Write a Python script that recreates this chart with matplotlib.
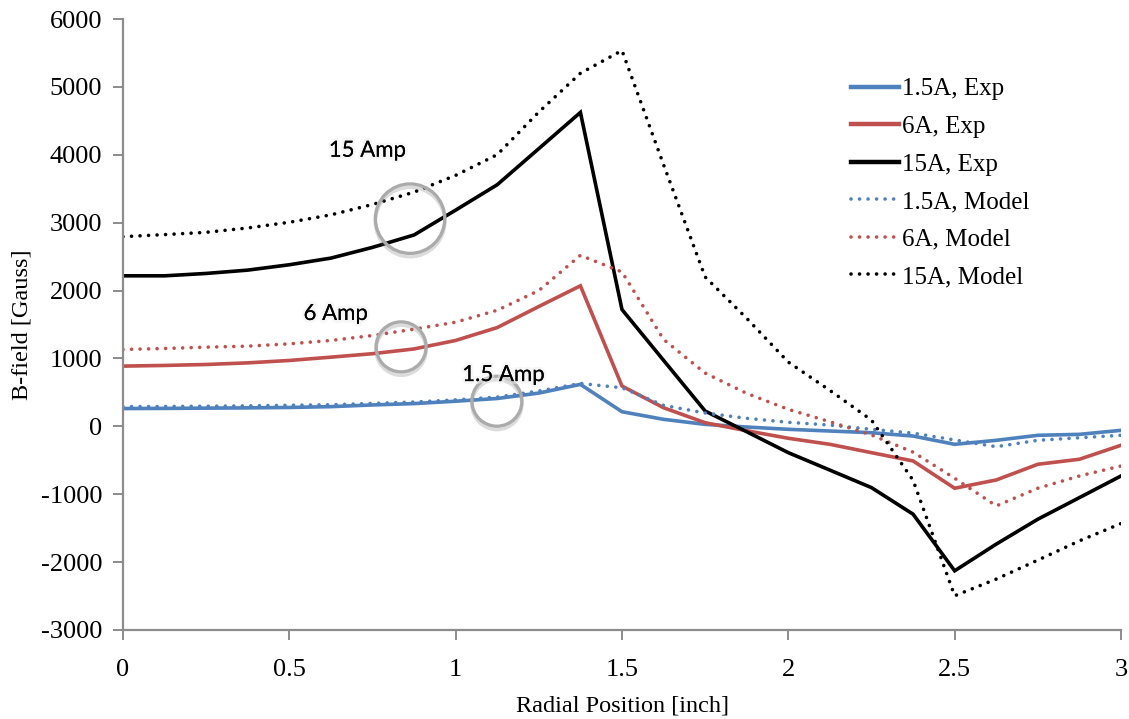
import matplotlib
matplotlib.use("Agg")
import matplotlib.pyplot as plt
import matplotlib.patheffects as pe

# Radial positions [inch]
radius = [0.0, 0.125, 0.25, 0.375, 0.5, 0.625, 0.75, 0.875, 1.0, 1.125, 1.25,
          1.375, 1.5, 1.625, 1.75, 1.875, 2.0, 2.125, 2.25, 2.375, 2.5,
          2.625, 2.75, 2.875, 3.0]

# Measured field [Gauss]
exp_1p5A = [262, 264, 268, 272, 278, 290, 315, 335, 370, 410, 490, 618, 215,
            103, 29, -10, -44, -69, -94, -143, -265, -206, -132, -118, -59]
exp_6A = [887, 897, 911, 935, 970, 1019, 1070, 1140, 1265, 1455, 1765, 2070,
          593, 274, 53, -65, -176, -265, -388, -510, -912, -790, -559, -485, -279]
exp_15A = [2217, 2217, 2252, 2301, 2380, 2478, 2636, 2819, 3185, 3559, 4091,
           4624, 1720, 972, 225, -80, -388, -645, -903, -1294, -2128, -1735,
           -1368, -1050, -731]

# Model field [Gauss]
model_1p5A = [290, 292, 296, 302, 310, 318, 338, 358, 390, 431, 520, 632, 568,
              309, 196, 118, 59, 19, -44, -100, -201, -300, -206, -168, -132]
model_6A = [1132, 1147, 1166, 1181, 1215, 1265, 1338, 1431, 1534, 1710, 2000,
            2519, 2274, 1279, 784, 485, 250, 68, -128, -380, -765, -1172, -912,
            -731, -584]
model_15A = [2794, 2824, 2858, 2922, 3006, 3115, 3268, 3450, 3697, 4002, 4630,
             5201, 5536, 3853, 2200, 1590, 946, 529, 92, -795, -2496, -2250,
             -1971, -1687, -1432]

x_ticks = [0, 0.5, 1, 1.5, 2, 2.5, 3]
x_tick_labels = ["0", "0.5", "1", "1.5", "2", "2.5", "3"]
y_ticks = list(range(-3000, 6001, 1000))

# Callout annotations: label, text position, circle centre
callouts = [
    ("15 Amp", (0.735, 4060), (0.863, 3059)),
    ("6 Amp", (0.64, 1655), (0.836, 1170)),
    ("1.5 Amp", (1.144, 755), (1.124, 370)),
]
ring_sizes = [50, 36, 36]

BLUE = "#4F81BD"
RED = "#C0504D"
BLACK = "#000000"
AXIS_GREY = "#8C8C8C"

plt.rcParams["font.family"] = ["Liberation Serif", "DejaVu Serif"]
plt.rcParams["axes.unicode_minus"] = False

fig = plt.figure(figsize=(11.29, 7.19), dpi=100)
ax = fig.add_axes([123 / 1129, 89 / 719, 998 / 1129, 611 / 719])

lw = 2.6
dot = (0, (0.01, 2.35))

series = [
    (exp_1p5A, BLUE, "-", "1.5A, Exp"),
    (exp_6A, RED, "-", "6A, Exp"),
    (exp_15A, BLACK, "-", "15A, Exp"),
    (model_1p5A, BLUE, dot, "1.5A, Model"),
    (model_6A, RED, dot, "6A, Model"),
    (model_15A, BLACK, dot, "15A, Model"),
]
handles = []
for values, color, style, label in series:
    (h,) = ax.plot(radius, values, color=color, linestyle=style, lw=lw,
                   label=label, dash_capstyle="round",
                   solid_joinstyle="miter")
    handles.append(h)

ax.set_xlim(0, 3)
ax.set_ylim(-3000, 6000)
ax.set_xticks(x_ticks)
ax.set_xticklabels(x_tick_labels)
ax.set_yticks(y_ticks)

for side in ("top", "right"):
    ax.spines[side].set_visible(False)
for side in ("left", "bottom"):
    ax.spines[side].set_color(AXIS_GREY)
    ax.spines[side].set_linewidth(1.6)

ax.tick_params(axis="both", direction="out", length=7, width=1.4,
               color=AXIS_GREY, labelsize=19, labelcolor="black")
ax.tick_params(axis="x", pad=14)
ax.tick_params(axis="y", pad=8)

ax.set_xlabel("Radial Position [inch]", fontsize=17.5, labelpad=10)
ax.set_ylabel("B-field [Gauss]", fontsize=17.5, labelpad=6)

leg = ax.legend(handles=handles, loc="upper left",
                bbox_to_anchor=(851 / 1129, 1 - 78 / 719),
                bbox_transform=fig.transFigure, frameon=False, fontsize=18,
                handlelength=1.9, handletextpad=0.15, labelspacing=0.6,
                borderaxespad=0, borderpad=0)
for h in leg.get_lines()[:3]:
    h.set_linewidth(3.2)

glow = [pe.withStroke(linewidth=4, foreground="#eeeeee", alpha=0.5), pe.Normal()]
ring_fx = [pe.SimpleLineShadow(offset=(0, -2.5), shadow_color="#777777", alpha=0.25),
           pe.Normal()]
for (label, text_pos, centre), size in zip(callouts, ring_sizes):
    ax.text(*text_pos, label, fontsize=16, family=["Lato", "DejaVu Sans"],
            ha="center", va="center", color="black", path_effects=glow, zorder=6)
    ax.plot([centre[0]], [centre[1]], marker="o", markersize=size,
            markerfacecolor="none", markeredgecolor="#ABABAB",
            markeredgewidth=2.4, linestyle="none", zorder=5,
            path_effects=ring_fx)

fig.savefig("out.png", dpi=100)
